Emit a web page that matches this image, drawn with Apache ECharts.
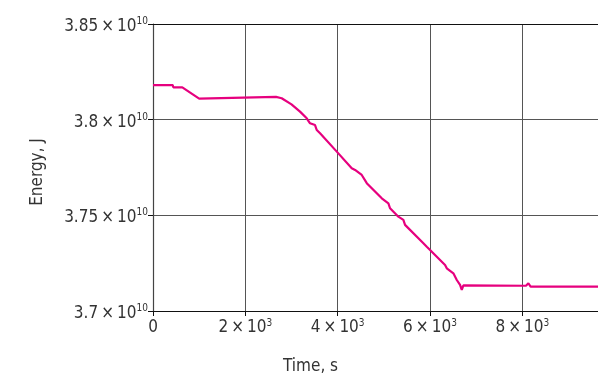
<!DOCTYPE html>
<html>
<head>
<meta charset="utf-8">
<script src="https://cdn.jsdelivr.net/npm/echarts@6/dist/echarts.min.js"></script>
<style>
  html, body { margin: 0; padding: 0; background: #fff; }
  #chart { width: 598px; height: 377px; }
</style>
</head>
<body>
<div id="chart"></div>
<script>
// Energy history of the run: time in seconds, energy in joules
const timeS = [
  0, 427, 440, 635, 1000, 1018, 1040, 2665, 2690, 2788, 3000, 3185, 3330,
  3402, 3510, 3547, 3619, 3981, 4305, 4377, 4522, 4631, 4956, 5099, 5135,
  5315, 5424, 5460, 5857, 5931, 6002, 6327, 6364, 6507, 6581, 6652, 6689,
  6724, 8080, 8132, 8180, 9640
];
const energyJ = [
  3.8181e10, 3.8181e10, 3.8169e10, 3.8169e10, 3.8110e10, 3.8108e10, 3.8119e10,
  3.8119e10, 3.8112e10, 3.8112e10, 3.8080e10, 3.8042e10, 3.8007e10, 3.7981e10,
  3.7972e10, 3.7946e10, 3.7929e10, 3.7833e10, 3.7746e10, 3.7737e10, 3.7711e10,
  3.7668e10, 3.7589e10, 3.7563e10, 3.7537e10, 3.7493e10, 3.7476e10, 3.7450e10,
  3.7354e10, 3.7336e10, 3.7319e10, 3.7240e10, 3.7223e10, 3.7197e10, 3.7162e10,
  3.7136e10, 3.7110e10, 3.7134e10, 3.7132e10, 3.7145e10, 3.7127e10, 3.7127e10
];

// Axis ranges, tick spacing and titles
const xRange = [0, 9640];
const xStep = 2000;
const yRange = [3.7e10, 3.85e10];
const yStep = 0.05e10;
const xTitle = 'Time, s';
const yTitle = 'Energy, J';

const FONT = '"DejaVu Sans Condensed", "Liberation Sans", sans-serif';

// "a × 10^n" label with a raised exponent
function sci(value) {
  if (value === 0) return '{m|0}';
  let exp = Math.floor(Math.log10(Math.abs(value)) + 1e-9);
  let mant = value / Math.pow(10, exp);
  if (Math.abs(value) >= 1e9) { exp = 10; mant = value / 1e10; }
  const m = parseFloat(mant.toFixed(4)).toString();
  return '{m|' + m + '\u2009×\u200910}{s|' + exp + '}';
}

const richLabel = {
  m: { fontFamily: FONT, fontSize: 17, color: '#333', lineHeight: 20 },
  s: { fontFamily: FONT, fontSize: 10, color: '#333', verticalAlign: 'top', lineHeight: 20, padding: [0, 0, 9, 0] }
};

const chart = echarts.init(document.getElementById('chart'), null, { renderer: 'canvas' });
chart.setOption({
  animation: false,
  backgroundColor: '#fff',
  grid: { left: 153, right: 0, top: 24, bottom: 66 },
  graphic: [{
    type: 'text',
    left: 283, top: 358,
    style: { text: xTitle, font: '17px ' + FONT, fill: '#333' }
  }, {
    type: 'text',
    x: 38, y: 172,
    rotation: Math.PI / 2,
    style: { text: yTitle, font: '17px ' + FONT, fill: '#333', align: 'center', verticalAlign: 'middle' }
  }],
  xAxis: [{
    type: 'value',
    min: xRange[0], max: xRange[1], interval: xStep,
    axisLine: { show: true, onZero: false, lineStyle: { color: '#111', width: 1.2 } },
    axisTick: { show: true, inside: false, length: 5, lineStyle: { color: '#111' } },
    axisLabel: {
      margin: 7,
      showMaxLabel: false,
      formatter: sci,
      rich: richLabel
    },
    splitLine: { show: true, lineStyle: { color: '#555', width: 1 } }
  }, {
    type: 'value',
    position: 'top',
    min: xRange[0], max: xRange[1],
    axisLine: { show: true, lineStyle: { color: '#111', width: 1.2 } },
    axisTick: { show: false },
    axisLabel: { show: false },
    splitLine: { show: false }
  }],
  yAxis: {
    type: 'value',
    min: yRange[0], max: yRange[1], interval: yStep,
    axisLine: { show: true, onZero: false, lineStyle: { color: '#444', width: 1.2 } },
    axisTick: { show: true, inside: false, length: 5, lineStyle: { color: '#111' } },
    axisLabel: {
      margin: 5,
      padding: [5, 0, 0, 0],
      formatter: sci,
      rich: richLabel
    },
    splitLine: { show: true, lineStyle: { color: '#555', width: 1 } }
  },
  series: [{
    type: 'line',
    xAxisIndex: 0,
    data: timeS.map((t, i) => [t, energyJ[i]]),
    showSymbol: false,
    smooth: false,
    lineStyle: { color: '#E6007E', width: 2.2 },
    itemStyle: { color: '#E6007E' }
  }]
});
</script>
</body>
</html>
